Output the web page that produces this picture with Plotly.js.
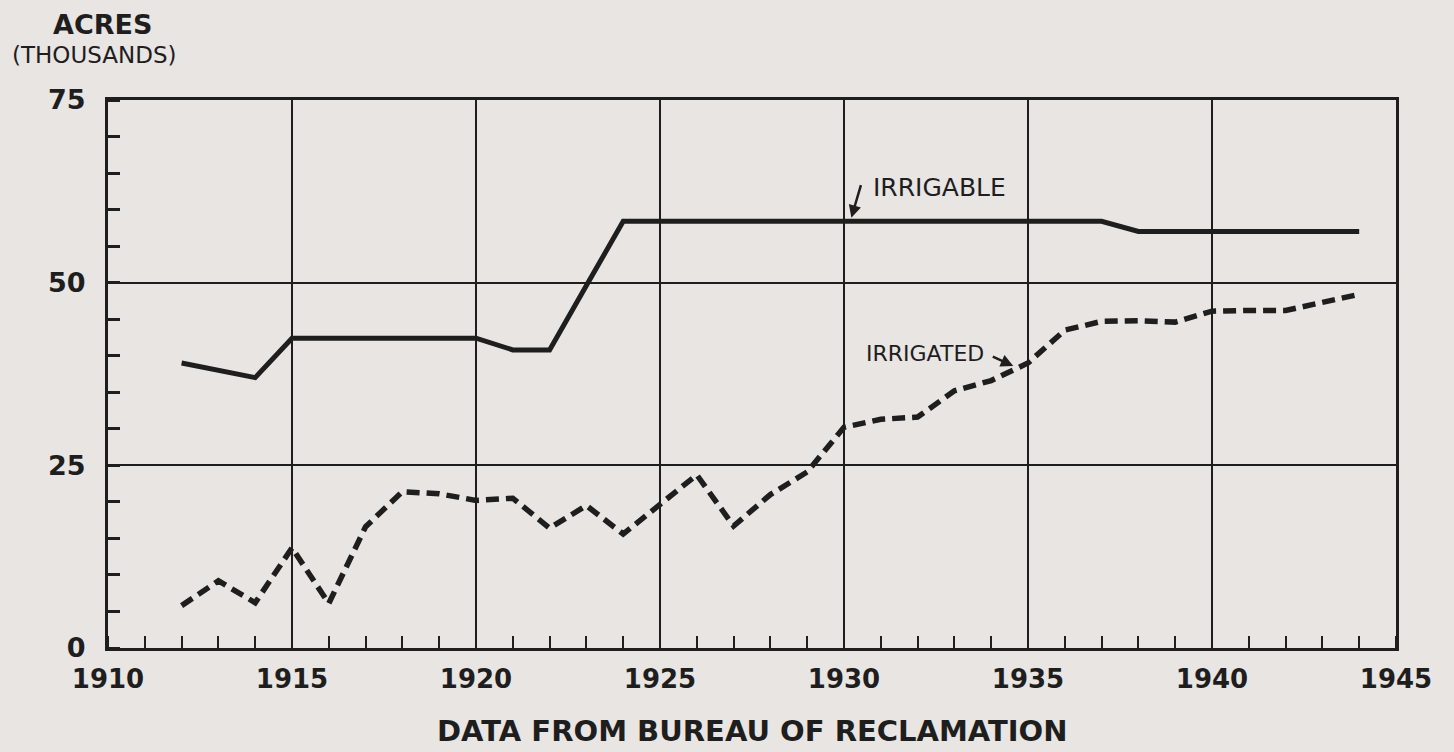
<!DOCTYPE html>
<html>
<head>
<meta charset="utf-8">
<script src="https://cdn.plot.ly/plotly-3.0.1.min.js"></script>
<style>
  body { margin: 0; background: #e9e5e2; }
  #chart { width: 1454px; height: 752px; }
</style>
</head>
<body>
<div id="chart"></div>
<script>
// years on the x axis
var years = [1912,1913,1914,1915,1916,1917,1918,1919,1920,1921,1922,1923,1924,1925,1926,1927,1928,
             1929,1930,1931,1932,1933,1934,1935,1936,1937,1938,1939,1940,1941,1942,1943,1944];

// irrigable acres (thousands)
var irrigable = [39.0,38.0,37.0,42.4,42.4,42.4,42.4,42.4,42.4,40.8,40.8,49.6,58.4,58.4,58.4,58.4,58.4,
                 58.4,58.4,58.4,58.4,58.4,58.4,58.4,58.4,58.4,57.0,57.0,57.0,57.0,57.0,57.0,57.0];

// irrigated acres (thousands)
var irrigated = [5.8,9.2,6.2,13.7,6.1,16.6,21.4,21.1,20.2,20.5,16.4,19.5,15.6,19.6,23.7,16.7,21.0,
                 24.1,30.2,31.3,31.6,35.2,36.6,39.0,43.5,44.7,44.8,44.6,46.1,46.2,46.2,47.3,48.4];

var yTicks = [0, 25, 50, 75];
var xTicks = [1910, 1915, 1920, 1925, 1930, 1935, 1940, 1945];

var ink = '#1e1e1e';
var font = 'DejaVu Sans, sans-serif';

var trace1 = {
  x: years, y: irrigable, type: 'scatter', mode: 'lines',
  line: {color: ink, width: 5}, hoverinfo: 'skip'
};

var trace2 = {
  x: years, y: irrigated, type: 'scatter', mode: 'lines',
  line: {color: ink, width: 5.5, dash: '13px,7px'}, hoverinfo: 'skip'
};

var layout = {
  width: 1454, height: 752,
  paper_bgcolor: '#e9e5e2', plot_bgcolor: '#e9e5e2',
  margin: {l: 108, r: 58, t: 100, b: 104},
  showlegend: false,
  font: {family: font, color: ink},
  xaxis: {
    range: [1910, 1945], tickvals: xTicks, ticktext: xTicks.map(function (v) { return '<b>' + v + '</b>'; }),
    showgrid: true, gridcolor: ink, gridwidth: 2,
    showline: true, linecolor: ink, linewidth: 3, mirror: true,
    ticks: '', zeroline: false, ticklabelstandoff: 6,
    tickfont: {size: 26, family: font, color: ink},
    minor: {dtick: 1, ticks: 'inside', ticklen: 12, tickcolor: ink, tickwidth: 2, showgrid: false}
  },
  yaxis: {
    range: [0, 75], tickvals: yTicks, ticktext: yTicks.map(function (v) { return '<b>' + v + '</b>'; }),
    showgrid: true, gridcolor: ink, gridwidth: 2,
    showline: true, linecolor: ink, linewidth: 3, mirror: true,
    ticks: '', zeroline: false, ticklabelstandoff: 14,
    tickfont: {size: 27, family: font, color: ink},
    minor: {dtick: 5, ticks: 'inside', ticklen: 12, tickcolor: ink, tickwidth: 3, showgrid: false}
  },
  annotations: [
    {xref: 'paper', yref: 'paper', x: -0.044, y: 1.138, xanchor: 'left', yanchor: 'middle',
     text: '<b>ACRES</b>', showarrow: false, font: {size: 27, family: font, color: ink}},
    {xref: 'paper', yref: 'paper', x: -0.076, y: 1.082, xanchor: 'left', yanchor: 'middle',
     text: '(THOUSANDS)', showarrow: false, font: {size: 23, family: font, color: ink}},
    {xref: 'paper', yref: 'paper', x: 0.5, y: -0.152, xanchor: 'center', yanchor: 'middle',
     text: '<b>DATA FROM BUREAU OF RECLAMATION</b>', showarrow: false,
     font: {size: 29, family: font, color: ink}},
    {x: 1932.6, y: 63.0, xanchor: 'center', yanchor: 'middle', text: 'IRRIGABLE',
     showarrow: false, font: {size: 25, family: font, color: ink}},
    {x: 1930.2, y: 58.9, text: '', showarrow: true, arrowhead: 2, arrowsize: 1,
     arrowwidth: 2.5, arrowcolor: ink, ax: 10, ay: -34},
    {x: 1932.2, y: 40.3, xanchor: 'center', yanchor: 'middle', text: 'IRRIGATED',
     showarrow: false, font: {size: 22, family: font, color: ink}},
    {x: 1934.6, y: 38.6, text: '', showarrow: true, arrowhead: 2, arrowsize: 1,
     arrowwidth: 2.5, arrowcolor: ink, ax: -22, ay: -10}
  ]
};

Plotly.newPlot('chart', [trace1, trace2], layout, {staticPlot: true});
</script>
</body>
</html>
